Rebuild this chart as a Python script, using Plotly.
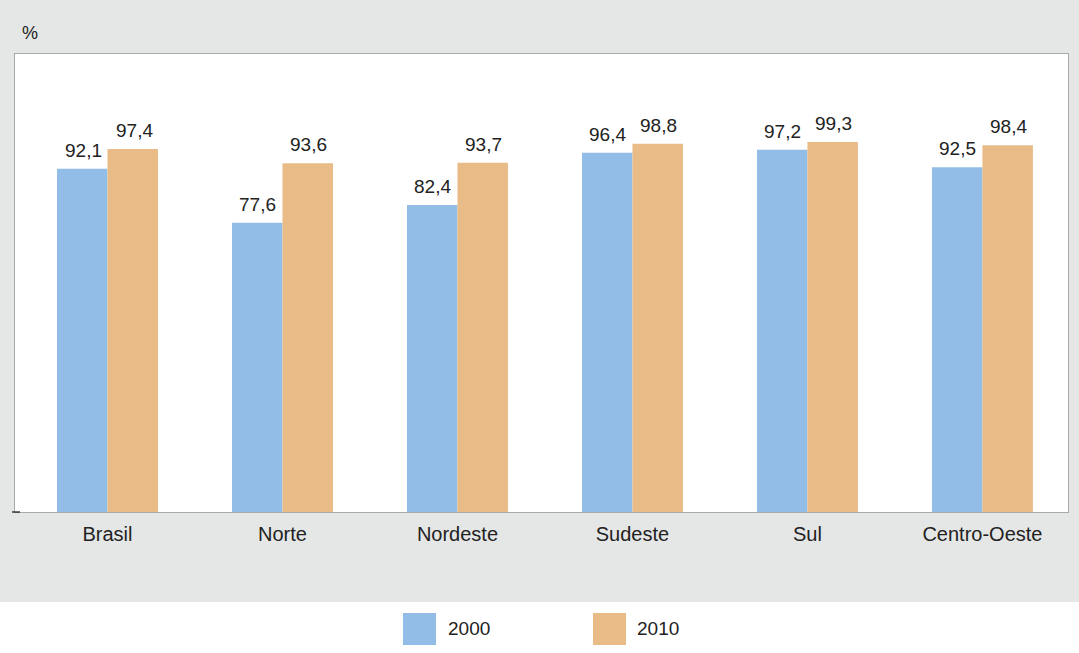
import plotly.graph_objects as go

categories = ["Brasil", "Norte", "Nordeste", "Sudeste", "Sul", "Centro-Oeste"]
values_2000 = [92.1, 77.6, 82.4, 96.4, 97.2, 92.5]
values_2010 = [97.4, 93.6, 93.7, 98.8, 99.3, 98.4]
series_names = ["2000", "2010"]

C2000 = "#92bde6"
C2010 = "#e9bb87"
BG = "#e5e7e6"
FONT = "Liberation Sans, Arial, sans-serif"
TXT = "#222222"

W, H = 1079, 653
L, R, T, B = 15, 11, 54, 141
pw, ph = W - L - R, H - T - B

def px2x(px):
    return (px - L) / pw

def py2y(py):
    return (H - B - py) / ph

fig = go.Figure()
for name, vals, col in [(series_names[0], values_2000, C2000), (series_names[1], values_2010, C2010)]:
    fig.add_trace(go.Bar(
        x=categories, y=vals, name=name, marker=dict(color=col, line=dict(width=0)),
        showlegend=False,
    ))

annotations = []
for vals, shift in [(values_2000, -25.5), (values_2010, 25.5)]:
    for c, v in zip(categories, vals):
        annotations.append(dict(
            x=c, y=v, xref="x", yref="y", text=f"{v:.1f}".replace(".", ","),
            showarrow=False, xanchor="center", yanchor="bottom", xshift=shift + 1, yshift=6,
            font=dict(family=FONT, size=19, color=TXT)))

shapes = [
    dict(type="rect", xref="paper", yref="paper", x0=px2x(-5), x1=px2x(W + 5), y0=py2y(602), y1=py2y(-5),
         fillcolor=BG, line=dict(width=0), layer="below"),
    dict(type="rect", xref="paper", yref="paper", x0=0, x1=1, y0=0, y1=1,
         fillcolor="white", line=dict(width=0), layer="below"),
    dict(type="rect", xref="paper", yref="paper", x0=px2x(403), x1=px2x(436), y0=py2y(645), y1=py2y(613),
         fillcolor=C2000, line=dict(width=0)),
    dict(type="rect", xref="paper", yref="paper", x0=px2x(593), x1=px2x(626), y0=py2y(645), y1=py2y(613),
         fillcolor=C2010, line=dict(width=0)),
    dict(type="line", xref="paper", yref="paper", x0=px2x(12), x1=px2x(20), y0=0, y1=0,
         line=dict(color="#111111", width=1.2)),
]

annotations += [
    dict(text="%", xref="paper", yref="paper", x=px2x(20), y=py2y(33), xanchor="left", yanchor="middle",
         showarrow=False, font=dict(family=FONT, size=18, color=TXT)),
    dict(text=series_names[0], xref="paper", yref="paper", x=px2x(446), y=py2y(629), xanchor="left", yanchor="middle",
         showarrow=False, font=dict(family=FONT, size=19, color=TXT)),
    dict(text=series_names[1], xref="paper", yref="paper", x=px2x(635), y=py2y(629), xanchor="left", yanchor="middle",
         showarrow=False, font=dict(family=FONT, size=19, color=TXT)),
]

fig.update_layout(
    width=W, height=H, margin=dict(l=L, r=R, t=T, b=B),
    paper_bgcolor="white", plot_bgcolor="rgba(0,0,0,0)",
    separators=",.",
    barmode="group", bargap=0.423, bargroupgap=0,
    shapes=shapes, annotations=annotations, showlegend=False,
    font=dict(family=FONT, color=TXT),
)
fig.update_xaxes(range=[-0.5286, 5.489], showline=True, mirror=True, linecolor="#a9a9a9", linewidth=1,
                 ticks="", showgrid=False, tickfont=dict(family=FONT, size=20, color=TXT), ticklabelstandoff=4)
fig.update_yaxes(range=[0, 122.9], showline=True, mirror=True, linecolor="#a9a9a9", linewidth=1,
                 showgrid=False, zeroline=False, showticklabels=False, ticks="")

fig.write_html("out.html")
